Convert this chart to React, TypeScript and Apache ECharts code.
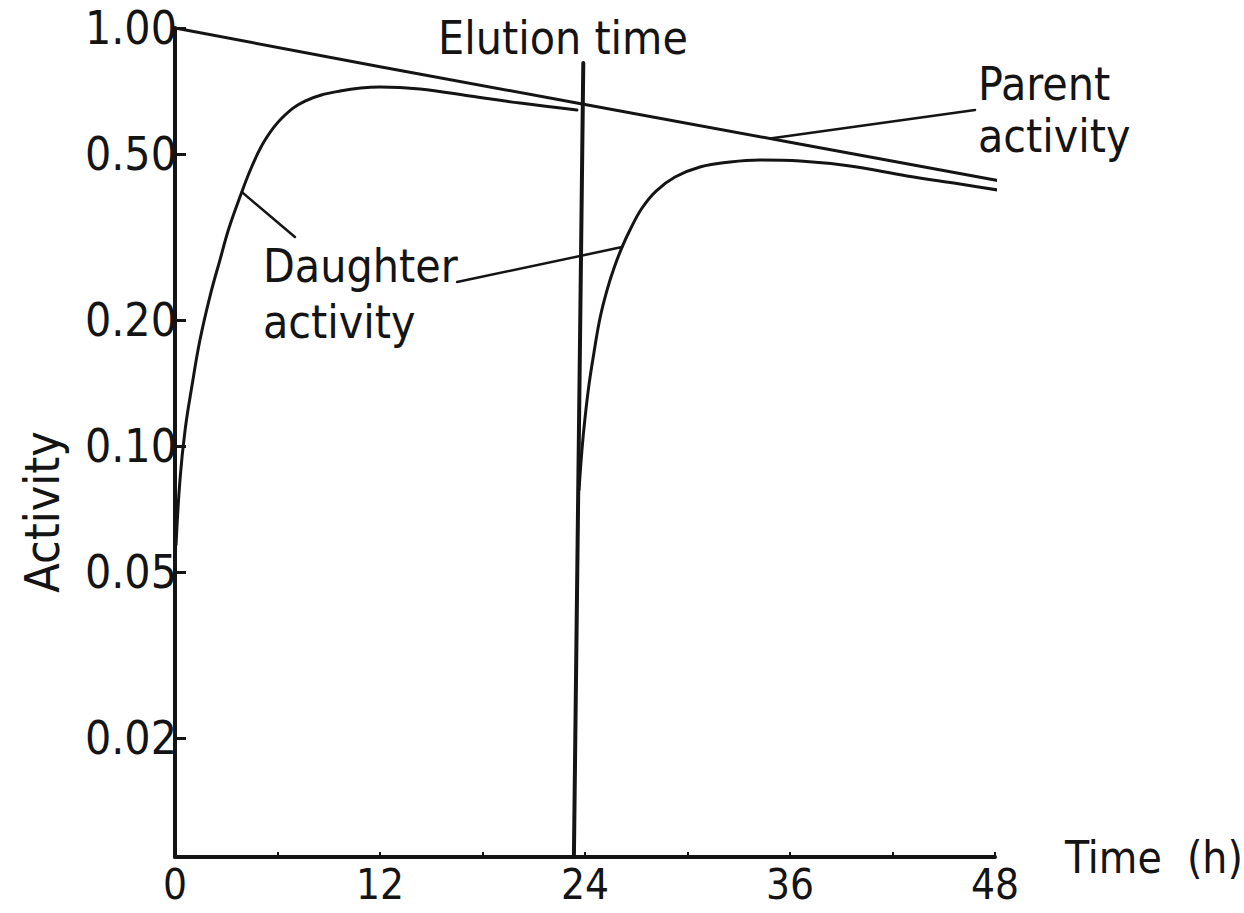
import React, { useEffect, useRef } from "react";
import * as echarts from "echarts";

// ---- data ----
const yTickValues = [0.02, 0.05, 0.1, 0.2, 0.5, 1.0];
const xTickLabels = [0, 12, 24, 36, 48];
const xTickMarks = [0, 6, 12, 18, 24, 30, 36, 42, 48];
const yMinActivity = 0.0104;
const yMaxActivity = 1.0;

const parentTime = [0, 12, 24, 36, 48, 49.3];
const parentActivity = [1.0, 0.808, 0.656, 0.533, 0.433, 0.423];

const daughter1Time = [0.06, 0.29, 0.59, 1.0, 1.46, 2.05, 2.63, 3.16, 3.8, 4.51, 5.27, 6.26, 7.61, 9.66, 12.0, 14.34, 17.27, 20.2, 23.53];
const daughter1Activity = [0.058, 0.0829, 0.1092, 0.1399, 0.1793, 0.2285, 0.2786, 0.3323, 0.3941, 0.4676, 0.5395, 0.6091, 0.6688, 0.7067, 0.7227, 0.7147, 0.6877, 0.6615, 0.6365];

const daughter2Time = [23.65, 23.82, 24.0, 24.23, 24.53, 24.88, 25.29, 25.7, 26.17, 26.69, 27.34, 28.16, 29.27, 30.73, 32.49, 34.24, 36.59, 39.51, 42.85, 45.95, 49.29];
const daughter2Activity = [0.0785, 0.0978, 0.1166, 0.1399, 0.1679, 0.2025, 0.2361, 0.2666, 0.2992, 0.3323, 0.371, 0.4074, 0.44, 0.465, 0.478, 0.4833, 0.4806, 0.4676, 0.4425, 0.4233, 0.4029];

const elutionTime = [23.35, 23.9];
const elutionActivity = [0.0104, 0.8245];

const parentLeaderTime = [34.83, 46.83];
const parentLeaderActivity = [0.544, 0.6365];
const daughterLeader1Time = [3.92, 7.02];
const daughterLeader1Activity = [0.405, 0.3162];
const daughterLeader2Time = [16.51, 26.17];
const daughterLeader2Activity = [0.2468, 0.2992];

const INK = "#141414";
const TEXT_FONT = "'DejaVu Sans Condensed', 'DejaVu Sans', sans-serif";
const NARROW_FONT = "'Liberation Sans Narrow', 'DejaVu Sans Condensed', sans-serif";

const toPairs = (t: number[], v: number[]) => t.map((x, i) => [x, Math.log10(v[i])]);

function lineSeries(name: string, t: number[], v: number[], width: number, smooth: boolean) {
  return {
    name,
    type: "line",
    data: toPairs(t, v),
    symbol: "none",
    showSymbol: false,
    smooth: smooth ? 0.4 : false,
    clip: false,
    silent: true,
    lineStyle: { color: INK, width, cap: "round", join: "round" },
    z: 3,
  };
}

export default function App() {
  const ref = useRef<HTMLDivElement>(null);
  useEffect(() => {
    if (!ref.current) return;
    const chart = echarts.init(ref.current, undefined, { renderer: "svg" });
    const logTicks = yTickValues.map((v) => Math.log10(v));
    chart.setOption({
      animation: false,
      backgroundColor: "#ffffff",
      grid: {
        left: 175,
        right: 249,
        top: 28,
        bottom: 56,
        containLabel: false,
        outerBoundsMode: "none",
      },
      xAxis: {
        type: "value",
        min: 0,
        max: 48,
        interval: 6,
        name: "Time  (h)",
        nameLocation: "end",
        nameGap: 70,
        nameTextStyle: {
          color: INK,
          fontSize: 44,
          fontFamily: TEXT_FONT,
          verticalAlign: "middle",
          align: "left",
        },
        axisLine: { show: true, onZero: false, lineStyle: { color: INK, width: 4 } },
        axisTick: {
          show: true,
          inside: true,
          length: 5,
          customValues: xTickMarks,
          lineStyle: { color: INK, width: 2 },
        },
        axisLabel: {
          customValues: xTickLabels,
          margin: 6,
          color: INK,
          fontSize: 42,
          fontFamily: TEXT_FONT,
        },
        splitLine: { show: false },
      },
      yAxis: {
        type: "value",
        min: Math.log10(yMinActivity),
        max: Math.log10(yMaxActivity),
        axisLine: { show: true, onZero: false, lineStyle: { color: INK, width: 4 } },
        axisTick: {
          show: true,
          inside: true,
          length: 11,
          customValues: logTicks,
          lineStyle: { color: INK, width: 3 },
        },
        axisLabel: {
          customValues: logTicks,
          formatter: (v: number) => Math.pow(10, v).toFixed(2),
          margin: -2,
          color: INK,
          fontSize: 46,
          fontFamily: NARROW_FONT,
        },
        splitLine: { show: false },
      },
      series: [
        lineSeries("Parent activity", parentTime, parentActivity, 3, false),
        lineSeries("Daughter activity (before elution)", daughter1Time, daughter1Activity, 3, true),
        lineSeries("Daughter activity (after elution)", daughter2Time, daughter2Activity, 3, true),
        lineSeries("Elution time", elutionTime, elutionActivity, 4, false),
        lineSeries("Parent label leader", parentLeaderTime, parentLeaderActivity, 2.5, false),
        lineSeries("Daughter label leader 1", daughterLeader1Time, daughterLeader1Activity, 2.5, false),
        lineSeries("Daughter label leader 2", daughterLeader2Time, daughterLeader2Activity, 2.5, false),
      ],
      graphic: [
        {
          type: "text",
          x: 563,
          y: 38,
          style: {
            text: "Elution time",
            fill: INK,
            font: `46px ${TEXT_FONT}`,
            align: "center",
            verticalAlign: "middle",
          },
        },
        {
          type: "text",
          x: 978,
          y: 58,
          style: {
            text: "Parent\nactivity",
            fill: INK,
            font: `46px ${TEXT_FONT}`,
            lineHeight: 52,
            align: "left",
            verticalAlign: "top",
          },
        },
        {
          type: "text",
          x: 263,
          y: 238,
          style: {
            text: "Daughter\nactivity",
            fill: INK,
            font: `46px ${TEXT_FONT}`,
            lineHeight: 56,
            align: "left",
            verticalAlign: "top",
          },
        },
        {
          type: "text",
          x: 42,
          y: 512,
          rotation: Math.PI / 2,
          style: {
            text: "Activity",
            fill: INK,
            font: `48px ${TEXT_FONT}`,
            align: "center",
            verticalAlign: "middle",
          },
        },
      ],
    });
    return () => chart.dispose();
  }, []);
  return (
    <div
      ref={ref}
      style={{ position: "fixed", left: 0, top: 0, width: 1244, height: 913, background: "#fff" }}
    />
  );
}
